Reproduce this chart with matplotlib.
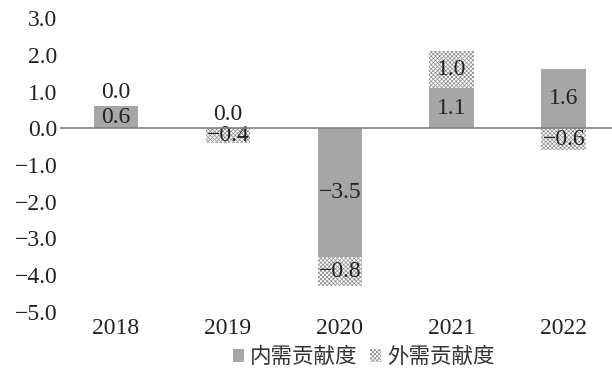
"""Domestic vs external demand contribution, stacked bars."""

import matplotlib.pyplot as plt
import numpy as np

plt.rcParams["font.family"] = ["Liberation Serif", "Noto Sans CJK SC"]
plt.rcParams["hatch.linewidth"] = 0.5

years = ["2018", "2019", "2020", "2021", "2022"]
domestic = [0.6, 0.0, -3.5, 1.1, 1.6]
external = [0.0, -0.4, -0.8, 1.0, -0.6]
series_names = ["内需贡献度", "外需贡献度"]


def fmt(v):
    return f"{v:.1f}".replace("-", "\u2212")


def stack_bases(values, pos_base, neg_base):
    bases = []
    for v, p, n in zip(values, pos_base, neg_base):
        bases.append(p if v >= 0 else n)
    return np.array(bases)


def main() -> None:
    fig = plt.figure(figsize=(6.12, 3.77), dpi=100)
    ax = fig.add_axes([60 / 612, 1 - 312 / 377, 552 / 612, 294 / 377])

    x = np.arange(len(years))
    width = 0.4
    pos = np.zeros(len(years))
    neg = np.zeros(len(years))

    styles = [
        dict(color="#a6a6a6", edgecolor="none"),
        dict(facecolor="white", edgecolor="#8c8c8c", hatch="xxxxxxxx", linewidth=0),
    ]

    handles = []
    for vals, name, st in zip([domestic, external], series_names, styles):
        vals = np.array(vals)
        base = stack_bases(vals, pos, neg)
        bars = ax.bar(x, vals, width, bottom=base, label=name, **st)
        handles.append(bars)
        for xi, v, b in zip(x, vals, base):
            if v == 0:
                ax.text(xi, b + 0.1, fmt(v), ha="center", va="bottom",
                        fontsize=17, color="#222222")
            else:
                ax.text(xi, b + v / 2, fmt(v), ha="center", va="center",
                        fontsize=17, color="#222222")
        pos = pos + np.where(vals > 0, vals, 0)
        neg = neg + np.where(vals < 0, vals, 0)

    ax.axhline(0, color="#808080", linewidth=1.2, zorder=3)

    yt = np.arange(-5, 3.1, 1.0)
    ax.set_ylim(-5.0, 3.0)
    ax.set_xlim(-0.5, 4.43)
    ax.set_yticks(yt)
    ax.set_yticklabels([fmt(v) for v in yt])
    ax.set_xticks(x)
    ax.set_xticklabels(years)
    ax.tick_params(axis="both", length=0, labelsize=17, colors="#222222")
    ax.tick_params(axis="x", pad=4)
    ax.tick_params(axis="y", pad=2)
    for s in ax.spines.values():
        s.set_visible(False)

    fig.legend(handles=handles, loc="center", bbox_to_anchor=(364 / 612, 1 - 357 / 377),
               ncol=2, frameon=False, handlelength=0.5, handleheight=0.6,
               handletextpad=0.3, columnspacing=0.6, labelcolor="#333333",
               prop={"family": "Noto Sans CJK SC", "size": 15.5})

    fig.savefig("out.png", dpi=100)


if __name__ == "__main__":
    main()
